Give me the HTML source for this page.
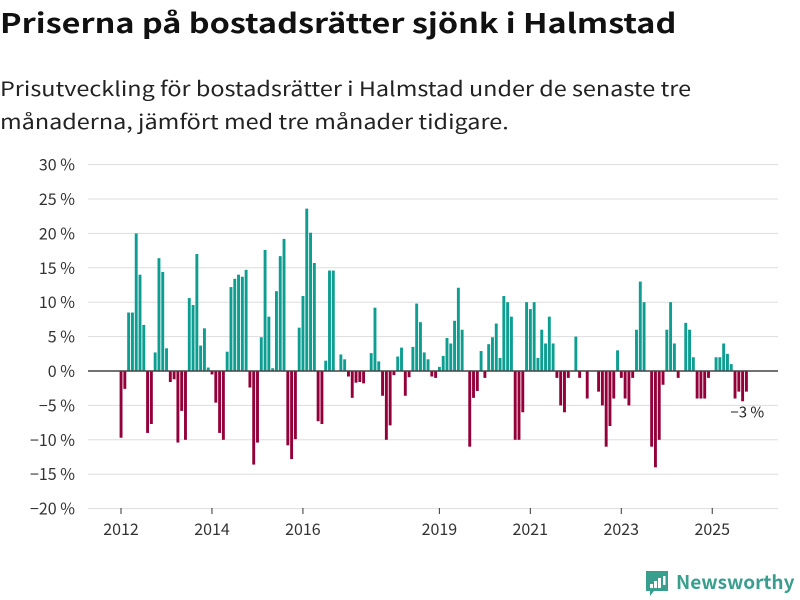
<!DOCTYPE html>
<html><head><meta charset="utf-8">
<style>
body{margin:0;background:#fff;font-family:"Noto Sans CJK SC","Liberation Sans",sans-serif;}
#wrap{position:relative;width:800px;height:600px;overflow:hidden;}
h1{position:absolute;left:0;top:2px;margin:0;font-size:27px;line-height:40px;font-weight:bold;color:#111;white-space:nowrap;transform-origin:0 0;transform:scaleX(1.2)}
p{position:absolute;left:0;top:71px;margin:0;font-size:20px;line-height:33px;color:#222;white-space:nowrap;transform-origin:0 0;transform:scaleX(1.17)}
</style></head><body>
<div id="wrap">
<h1>Priserna på bostadsrätter sjönk i Halmstad</h1>
<p>Prisutveckling för bostadsrätter i Halmstad under de senaste tre<br>månaderna, jämfört med tre månader tidigare.</p>
<svg id="chart" width="800" height="600" style="position:absolute;left:0;top:0"></svg>
</div>
<script>
const yTicks=[30,25,20,15,10,5,0,-5,-10,-15,-20];
const yTickLabels=["30 %","25 %","20 %","15 %","10 %","5 %","0 %","−5 %","−10 %","−15 %","−20 %"];
const xTickYears=[2012,2014,2016,2019,2021,2023,2025];
const startYear=2012;
const values=[
-9.7,-2.6,8.5,8.5,20,14,6.7,-9,-7.7,2.7,16.4,14.4,
3.3,-1.6,-1.2,-10.4,-5.8,-10,10.6,9.6,17,3.7,6.2,0.5,
-0.5,-4.6,-9,-10,2.8,12.2,13.4,14,13.7,14.7,-2.4,-13.6,
-10.4,4.9,17.6,7.9,0.4,11.6,16.7,19.2,-10.8,-12.8,-9.9,6.3,
10.9,23.6,20.1,15.7,-7.3,-7.7,1.5,14.6,14.6,0,2.4,1.7,
-0.8,-3.9,-1.7,-1.6,-1.8,0,2.6,9.2,1.4,-3.6,-10,-7.9,-0.6,2.1,3.4,-3.6,-0.9,3.5,9.8,7.1,2.7,1.7,-0.8,-1.0,0.6,2.2,4.8,4.0,7.3,12.1,6.0,
0,-11,-3.9,-2.9,2.9,-1.0,3.9,4.9,6.9,1.9,10.9,10,7.9,-10,-10,-6,10,9,10,1.9,6,4,7.9,4,-1,-5,-6,-1,0,
5,-1,0,-4,0,0,-3,-5,-11,-8,-4,3,-1,-4,-5,-1,6,13,10,0,-11,-14,-10,-2,6,10,4,-1,0,7,6,2,
-4,-4,-4,-1,0,2,2,4,2.5,1,-4,-3,-4.4,-3
];
const lastLabel="−3 %";
const NS="http://www.w3.org/2000/svg";
const FONT='Noto Sans CJK SC, Liberation Sans, sans-serif';
const svg=document.getElementById('chart');
const y0=371,pxPer=6.88;
function yScale(v){return y0-v*pxPer;}
const step=3.79;
function xScale(i){return 121+i*step;}
function mk(t,a){const e=document.createElementNS(NS,t);for(const k in a)e.setAttribute(k,a[k]);svg.appendChild(e);return e;}
yTicks.forEach((t,i)=>{
  const g=mk('line',{x1:88,x2:778,y1:yScale(t),y2:yScale(t),stroke:'#ddd','stroke-width':1});
  
  
  const l=mk('text',{x:75,y:yScale(t)+6,'text-anchor':'end','font-size':16,fill:'#333','font-family':FONT});
  l.textContent=yTickLabels[i];
  
  
});
values.forEach((v,i)=>{
  const y=yScale(Math.max(v,0)),h=Math.abs(v)*pxPer;
  const r=mk('rect',{x:xScale(i)-1.4,y:y,width:2.9,height:h,fill:v>=0?'#0d9e91':'#930039'});
  
  
});
const zl=mk('line',{x1:88,x2:778,y1:y0,y2:y0,stroke:'#444','stroke-width':1.5});


xTickYears.forEach(yr=>{
  const x=xScale((yr-startYear)*12);
  const tk=mk('line',{x1:x,x2:x,y1:508,y2:514,stroke:'#333','stroke-width':1});
  
  
  const l=mk('text',{x:x,y:535,'text-anchor':'middle','font-size':16,fill:'#333','font-family':FONT});
  l.textContent=yr;
  
  
});
const li=values.length-1;
const ll=mk('text',{x:xScale(li)+1,y:yScale(values[li])+26,'text-anchor':'middle','font-size':15,fill:'#222','font-family':FONT});
ll.textContent=lastLabel;


const lg=mk('g',{});


const box=document.createElementNS(NS,'path');box.setAttribute('d','M646 571h22v20h-14l-4 5v-5h-4z');box.setAttribute('fill','#3a9e8f');lg.appendChild(box);
[[650,584,3,4],[654,581,3,7],[658,578,3,10],[663,576,2.5,9]].forEach(b=>{const r=document.createElementNS(NS,'rect');r.setAttribute('x',b[0]);r.setAttribute('y',b[1]);r.setAttribute('width',b[2]);r.setAttribute('height',b[3]);r.setAttribute('fill','#fff');lg.appendChild(r);});
const lt=document.createElementNS(NS,'text');lt.setAttribute('x',676);lt.setAttribute('y',589);lt.setAttribute('font-size',19);lt.setAttribute('font-weight','bold');lt.setAttribute('fill','#3a9e8f');lt.setAttribute('font-family',FONT);lt.textContent='Newsworthy';lg.appendChild(lt);
</script>
</body></html>
